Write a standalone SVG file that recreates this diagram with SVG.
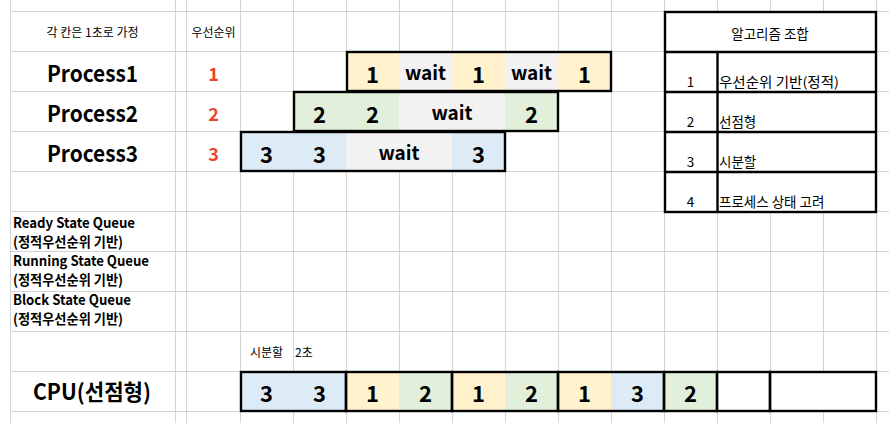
<svg xmlns="http://www.w3.org/2000/svg" width="889" height="423" viewBox="0 0 889 423">
<style>
.grid line{stroke:#d4d4d4;stroke-width:1}
.t{font-family:"Noto Sans CJK KR","Noto Sans",sans-serif;fill:#000}
.sm{font-size:12px}
.proc{font-size:22px;font-weight:bold;text-anchor:middle}
.pri{font-size:18px;font-weight:bold;text-anchor:middle;fill:#e8442c}
.num{font-size:22px;font-weight:bold;text-anchor:middle}
.wait{font-size:19px;font-weight:bold;text-anchor:middle}
.q{font-size:14px;font-weight:bold}
.tb{font-size:13.5px}
.box{fill:none;stroke:#000;stroke-width:2.4}
.y{fill:#fff2cc}.g{fill:#e2efda}.b{fill:#ddebf7}.w{fill:#f2f2f2}.wh{fill:#fff}
</style>
<rect width="889" height="423" fill="#fff"/>
<g class="grid" id="grid">
<line x1="10.5" y1="0" x2="10.5" y2="423"/>
<line x1="175.5" y1="0" x2="175.5" y2="423"/>
<line x1="186.5" y1="0" x2="186.5" y2="423"/>
<line x1="240.5" y1="0" x2="240.5" y2="423"/>
<line x1="293.5" y1="0" x2="293.5" y2="423"/>
<line x1="346.5" y1="0" x2="346.5" y2="423"/>
<line x1="399.5" y1="0" x2="399.5" y2="423"/>
<line x1="452.5" y1="0" x2="452.5" y2="423"/>
<line x1="505.5" y1="0" x2="505.5" y2="423"/>
<line x1="558.5" y1="0" x2="558.5" y2="423"/>
<line x1="611.5" y1="0" x2="611.5" y2="423"/>
<line x1="664.5" y1="0" x2="664.5" y2="423"/>
<line x1="717.5" y1="0" x2="717.5" y2="423"/>
<line x1="770.5" y1="0" x2="770.5" y2="423"/>
<line x1="823.5" y1="0" x2="823.5" y2="423"/>
<line x1="876.5" y1="0" x2="876.5" y2="423"/>
<line x1="10" y1="11.5" x2="889" y2="11.5"/>
<line x1="10" y1="51.5" x2="889" y2="51.5"/>
<line x1="10" y1="91.5" x2="889" y2="91.5"/>
<line x1="10" y1="131.5" x2="889" y2="131.5"/>
<line x1="10" y1="171.5" x2="889" y2="171.5"/>
<line x1="10" y1="211.5" x2="889" y2="211.5"/>
<line x1="10" y1="251.5" x2="889" y2="251.5"/>
<line x1="10" y1="291.5" x2="889" y2="291.5"/>
<line x1="10" y1="331.5" x2="889" y2="331.5"/>
<line x1="10" y1="371.5" x2="889" y2="371.5"/>
<line x1="10" y1="411.5" x2="889" y2="411.5"/>
</g>
<g id="labels">
<text class="t sm" x="92.5" y="37" text-anchor="middle">각 칸은 1초로 가정</text>
<text class="t sm" x="213.5" y="37" text-anchor="middle">우선순위</text>
<text class="t proc" x="92.5" y="82" textLength="91" lengthAdjust="spacingAndGlyphs">Process1</text>
<text class="t proc" x="92.5" y="122" textLength="91" lengthAdjust="spacingAndGlyphs">Process2</text>
<text class="t proc" x="92.5" y="162" textLength="91" lengthAdjust="spacingAndGlyphs">Process3</text>
<text class="t pri" x="213.5" y="81">1</text>
<text class="t pri" x="213.5" y="121">2</text>
<text class="t pri" x="213.5" y="161">3</text>
</g>
<g id="process1">
<rect class="y" x="346" y="51" width="53" height="40"/>
<rect class="w" x="399" y="51" width="53" height="40"/>
<rect class="y" x="452" y="51" width="53" height="40"/>
<rect class="w" x="505" y="51" width="53" height="40"/>
<rect class="y" x="558" y="51" width="53" height="40"/>
<rect class="box" x="347" y="52" width="264" height="39"/>
<text class="t num" x="372.5" y="82.5">1</text>
<text class="t wait" x="425.5" y="80">wait</text>
<text class="t num" x="478.5" y="82.5">1</text>
<text class="t wait" x="531.5" y="80">wait</text>
<text class="t num" x="584.5" y="82.5">1</text>
</g>
<g id="process2">
<rect class="g" x="293" y="91" width="106" height="40"/>
<rect class="w" x="399" y="91" width="106" height="40"/>
<rect class="g" x="505" y="91" width="53" height="40"/>
<rect class="box" x="294" y="92" width="264" height="39"/>
<text class="t num" x="319.5" y="122.5">2</text>
<text class="t num" x="372.5" y="122.5">2</text>
<text class="t wait" x="452" y="120">wait</text>
<text class="t num" x="531.5" y="122.5">2</text>
</g>
<g id="process3">
<rect class="b" x="240" y="131" width="106" height="40"/>
<rect class="w" x="346" y="131" width="106" height="40"/>
<rect class="b" x="452" y="131" width="53" height="40"/>
<rect class="box" x="241" y="132" width="264" height="39"/>
<text class="t num" x="266.5" y="162.5">3</text>
<text class="t num" x="319.5" y="162.5">3</text>
<text class="t wait" x="399" y="160">wait</text>
<text class="t num" x="478.5" y="162.5">3</text>
</g>
<g id="algorithm-table">
<rect class="wh" x="664" y="11" width="212" height="201"/>
<rect class="box" x="665" y="12" width="211" height="200"/>
<line x1="665" y1="52" x2="876" y2="52" stroke="#000" stroke-width="2.4"/>
<line x1="665" y1="92" x2="876" y2="92" stroke="#000" stroke-width="2.4"/>
<line x1="665" y1="132" x2="876" y2="132" stroke="#000" stroke-width="2.4"/>
<line x1="665" y1="172" x2="876" y2="172" stroke="#000" stroke-width="2.4"/>
<line x1="717.5" y1="52" x2="717.5" y2="212" stroke="#000" stroke-width="2.4"/>
<text class="t tb" x="770" y="39" text-anchor="middle">알고리즘 조합</text>
<text class="t tb" x="690.5" y="86.5" text-anchor="middle">1</text>
<text class="t tb" x="719" y="86.5" textLength="120" lengthAdjust="spacingAndGlyphs">우선순위 기반(정적)</text>
<text class="t tb" x="690.5" y="126.5" text-anchor="middle">2</text>
<text class="t tb" x="719" y="126.5">선점형</text>
<text class="t tb" x="690.5" y="166.5" text-anchor="middle">3</text>
<text class="t tb" x="719" y="166.5">시분할</text>
<text class="t tb" x="690.5" y="206.5" text-anchor="middle">4</text>
<text class="t tb" x="719" y="206.5">프로세스 상태 고려</text>
</g>
<g id="queues">
<text class="t q" x="13" y="228" textLength="122" lengthAdjust="spacingAndGlyphs">Ready State Queue</text>
<text class="t q" x="13" y="247" textLength="110" lengthAdjust="spacingAndGlyphs">(정적우선순위 기반)</text>
<text class="t q" x="13" y="266" textLength="136" lengthAdjust="spacingAndGlyphs">Running State Queue</text>
<text class="t q" x="13" y="285" textLength="110" lengthAdjust="spacingAndGlyphs">(정적우선순위 기반)</text>
<text class="t q" x="13" y="305" textLength="118" lengthAdjust="spacingAndGlyphs">Block State Queue</text>
<text class="t q" x="13" y="324" textLength="110" lengthAdjust="spacingAndGlyphs">(정적우선순위 기반)</text>
</g>
<g id="timeslice">
<text class="t sm" x="250" y="357">시분할</text>
<text class="t sm" x="295" y="357">2초</text>
</g>
<g id="cpu">
<text class="t proc" x="92" y="400" textLength="118" lengthAdjust="spacingAndGlyphs">CPU(선점형)</text>
<rect class="b" x="240" y="371" width="106" height="40"/>
<rect class="y" x="346" y="371" width="53" height="40"/>
<rect class="g" x="399" y="371" width="53" height="40"/>
<rect class="y" x="452" y="371" width="53" height="40"/>
<rect class="g" x="505" y="371" width="53" height="40"/>
<rect class="y" x="558" y="371" width="53" height="40"/>
<rect class="b" x="611" y="371" width="53" height="40"/>
<rect class="g" x="664" y="371" width="53" height="40"/>
<rect class="wh" x="717" y="371" width="159" height="40"/>
<rect class="box" x="241" y="372" width="105" height="39"/>
<rect class="box" x="346" y="372" width="106" height="39"/>
<rect class="box" x="452" y="372" width="106" height="39"/>
<rect class="box" x="558" y="372" width="106" height="39"/>
<rect class="box" x="664" y="372" width="53" height="39"/>
<rect class="box" x="717" y="372" width="53" height="39"/>
<rect class="box" x="770" y="372" width="106" height="39"/>
<text class="t num" x="266.5" y="402">3</text>
<text class="t num" x="319.5" y="402">3</text>
<text class="t num" x="372.5" y="402">1</text>
<text class="t num" x="425.5" y="402">2</text>
<text class="t num" x="478.5" y="402">1</text>
<text class="t num" x="531.5" y="402">2</text>
<text class="t num" x="584.5" y="402">1</text>
<text class="t num" x="637.5" y="402">3</text>
<text class="t num" x="690.5" y="402">2</text>
</g>
</svg>
